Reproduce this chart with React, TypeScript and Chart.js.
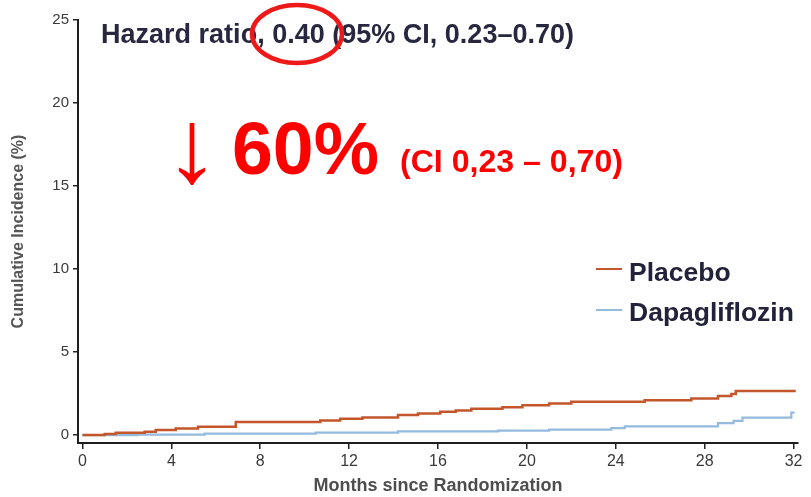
import React, { useEffect, useRef } from 'react';
import { Chart, registerables } from 'chart.js';

Chart.register(...registerables);

// Axis ticks
const monthTicks = [0, 4, 8, 12, 16, 20, 24, 28, 32];
const incidenceTicks = [0, 5, 10, 15, 20, 25];

// Kaplan–Meier style step curves: month where the step occurs, and the new cumulative incidence (%)
const placeboMonths = [0, 1.0, 1.5, 2.8, 3.3, 4.2, 5.2, 6.9, 10.7, 11.6, 12.6, 14.2, 15.1, 16.1, 16.8, 17.5, 18.9, 19.8, 21.0, 22.0, 25.3, 27.4, 28.6, 29.2, 29.4, 32.1];
const placeboIncidence = [0, 0.06, 0.14, 0.2, 0.3, 0.4, 0.5, 0.78, 0.88, 0.98, 1.06, 1.2, 1.3, 1.4, 1.48, 1.58, 1.68, 1.8, 1.9, 2.0, 2.1, 2.2, 2.35, 2.47, 2.65, 2.65];

const dapaMonths = [0, 2.5, 5.5, 10.5, 14.2, 18.7, 21.0, 23.8, 24.4, 28.6, 29.3, 29.7, 31.9, 32.05];
const dapaIncidence = [0, 0.03, 0.08, 0.15, 0.22, 0.27, 0.32, 0.42, 0.52, 0.72, 0.85, 1.05, 1.35, 1.35];

const seriesLabels = ['Placebo', 'Dapagliflozin'];
const seriesColors = ['#c4562b', '#94badd'];

const hazardText = 'Hazard ratio, 0.40 (95% CI, 0.23–0.70)';
const arrowGlyph = '↓';
const reductionText = '60%';
const reductionCI = '(CI 0,23 – 0,70)';
const xTitle = 'Months since Randomization';
const yTitle = 'Cumulative Incidence (%)';

const FONT = "'Liberation Sans', Arial, Helvetica, sans-serif";

function toPoints(xs: number[], ys: number[]) {
  return xs.map((x, i) => ({ x, y: ys[i] }));
}

// Draw text starting at (x, baseline), squeezed/stretched horizontally to a given width
function drawFitted(ctx: CanvasRenderingContext2D, text: string, font: string, x: number, baseline: number, width: number) {
  ctx.save();
  ctx.font = font;
  ctx.textAlign = 'left';
  ctx.textBaseline = 'alphabetic';
  const m = ctx.measureText(text);
  const sx = width / m.width;
  ctx.translate(x, baseline);
  ctx.scale(sx, 1);
  ctx.fillText(text, 0, 0);
  ctx.restore();
}

// Draw a glyph so that its ink fills the given box
function drawInBox(ctx: CanvasRenderingContext2D, text: string, font: string, left: number, top: number, right: number, bottom: number) {
  ctx.save();
  ctx.font = font;
  ctx.textAlign = 'left';
  ctx.textBaseline = 'alphabetic';
  const m = ctx.measureText(text);
  const bw = m.actualBoundingBoxLeft + m.actualBoundingBoxRight;
  const bh = m.actualBoundingBoxAscent + m.actualBoundingBoxDescent;
  ctx.translate(left, top);
  ctx.scale((right - left) / bw, (bottom - top) / bh);
  ctx.fillText(text, m.actualBoundingBoxLeft, m.actualBoundingBoxAscent);
  ctx.restore();
}

const overlayPlugin = {
  id: 'overlayText',
  afterDraw(chart: any) {
    const ctx: CanvasRenderingContext2D = chart.ctx;
    ctx.save();

    // Hazard ratio heading
    ctx.fillStyle = '#27273f';
    drawFitted(ctx, hazardText, `bold 27px ${FONT}`, 101, 43, 473);

    // Red ring around the hazard ratio value
    ctx.beginPath();
    ctx.ellipse(297, 34, 45, 29, 0, 0, Math.PI * 2);
    ctx.strokeStyle = '#ee1a1a';
    ctx.lineWidth = 4.5;
    ctx.stroke();

    // Risk reduction callout
    ctx.fillStyle = '#ff0000';
    drawInBox(ctx, arrowGlyph, `72px ${FONT}`, 178, 122, 206, 186);
    drawFitted(ctx, reductionText, `bold 75px ${FONT}`, 232, 174, 147);
    drawFitted(ctx, reductionCI, `bold 31px ${FONT}`, 400, 172, 223);

    // Legend
    const rows = [
      { y: 269, base: 281 },
      { y: 310, base: 321 },
    ];
    chart.data.datasets.forEach((ds: any, i: number) => {
      const r = rows[i];
      ctx.beginPath();
      ctx.moveTo(596, r.y);
      ctx.lineTo(622, r.y);
      ctx.strokeStyle = ds.borderColor;
      ctx.lineWidth = 2;
      ctx.stroke();
      ctx.fillStyle = '#22223a';
      ctx.font = `bold 26.5px ${FONT}`;
      ctx.textAlign = 'left';
      ctx.textBaseline = 'alphabetic';
      ctx.fillText(ds.label, 629, r.base);
    });

    ctx.restore();
  },
};

export default function App() {
  const canvasRef = useRef<HTMLCanvasElement | null>(null);

  useEffect(() => {
    const canvas = canvasRef.current;
    if (!canvas) return;
    Chart.defaults.font.family = FONT;

    const chart = new Chart(canvas, {
      type: 'line',
      data: {
        datasets: [
          {
            label: seriesLabels[0],
            data: toPoints(placeboMonths, placeboIncidence),
            borderColor: seriesColors[0],
            borderWidth: 2.5,
            pointRadius: 0,
            stepped: 'before',
            fill: false,
          },
          {
            label: seriesLabels[1],
            data: toPoints(dapaMonths, dapaIncidence),
            borderColor: seriesColors[1],
            borderWidth: 2.2,
            pointRadius: 0,
            stepped: 'before',
            fill: false,
          },
        ],
      },
      options: {
        animation: false,
        responsive: false,
        layout: { padding: { top: 20, right: 13, left: 0, bottom: 0 } },
        plugins: {
          legend: { display: false },
          tooltip: { enabled: false },
        },
        scales: {
          x: {
            type: 'linear',
            min: -0.2,
            max: 32.2,
            afterBuildTicks: (s: any) => {
              s.ticks = monthTicks.map((v) => ({ value: v }));
            },
            afterFit: (s: any) => {
              s.height = 54;
            },
            grid: { drawOnChartArea: false, drawTicks: true, tickLength: 6, color: '#222', lineWidth: 1.5 },
            border: { display: true, color: '#1e1e1e', width: 2 },
            ticks: { padding: 3, color: '#3a3a3a', font: { size: 16 }, maxRotation: 0, autoSkip: false },
            title: {
              display: true,
              text: xTitle,
              color: '#4d4d4d',
              font: { size: 18, weight: 'bold' },
              padding: { top: 0, bottom: 0 },
            },
          },
          y: {
            type: 'linear',
            min: -0.48,
            max: 25,
            afterBuildTicks: (s: any) => {
              s.ticks = incidenceTicks.map((v) => ({ value: v }));
            },
            afterFit: (s: any) => {
              s.width = 78;
            },
            grid: { drawOnChartArea: false, drawTicks: true, tickLength: 5, color: '#222', lineWidth: 1.5 },
            border: { display: true, color: '#1e1e1e', width: 2 },
            ticks: { padding: 4, color: '#3a3a3a', font: { size: 15 } },
            title: {
              display: true,
              text: yTitle,
              color: '#555',
              font: { size: 16, weight: 'bold' },
              padding: { top: 9, bottom: 0 },
            },
          },
        },
      },
      plugins: [overlayPlugin],
    });

    return () => chart.destroy();
  }, []);

  return (
    <div style={{ position: 'fixed', left: 0, top: 0, width: 811, height: 497, background: '#fff' }}>
      <canvas ref={canvasRef} width={811} height={497} style={{ display: 'block', width: 811, height: 497 }} />
    </div>
  );
}
